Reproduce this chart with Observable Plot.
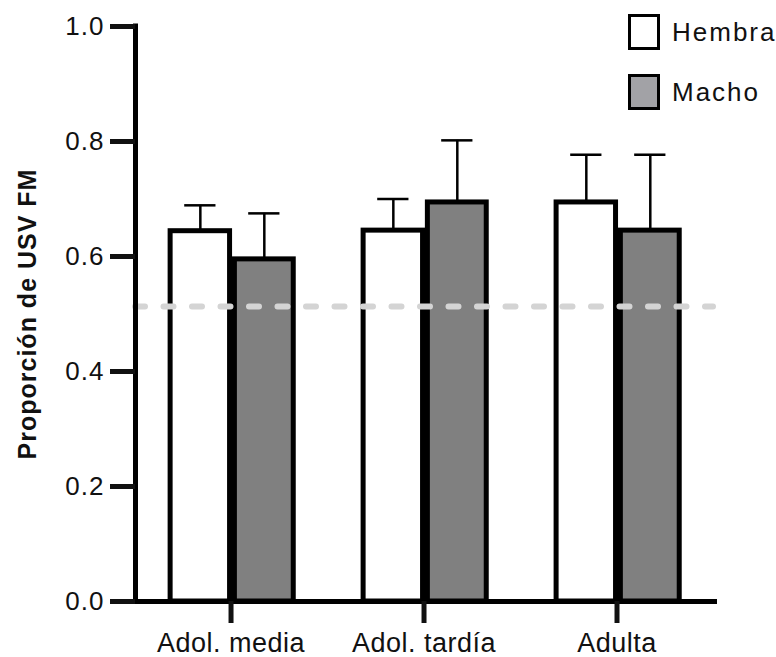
<!DOCTYPE html>
<html>
<head>
<meta charset="utf-8">
<script src="https://cdn.jsdelivr.net/npm/d3@7"></script>
<script src="https://cdn.jsdelivr.net/npm/@observablehq/plot@0.6"></script>
<style>
  html, body { margin: 0; padding: 0; background: #fff; }
  #wrap { position: relative; width: 776px; height: 657px; font-family: "Liberation Sans", Arial, sans-serif; }
  #wrap svg { position: absolute; left: 0; top: 0; }
  #wrap svg g[aria-label="y-axis tick label"] text { letter-spacing: 1px; }
  #wrap svg g[aria-label="x-axis tick label"] text { letter-spacing: 0.5px; }
  #wrap svg g[aria-label="text"] text { letter-spacing: 1px; }
  .leg { position: absolute; left: 628px; display: flex; align-items: center; }
  .leg .box { width: 26px; height: 30px; border: 3px solid #000; }
  .leg .lab { margin-left: 12px; font-size: 26px; letter-spacing: 2px; color: #111; }
</style>
</head>
<body>
<div id="wrap"></div>
<script>
const categories = ["Adol. media", "Adol. tardía", "Adulta"];
const series = ["Hembra", "Macho"];
const hembraMean = [0.644, 0.645, 0.694];
const hembraUpper = [0.689, 0.700, 0.777];
const machoMean = [0.595, 0.694, 0.645];
const machoUpper = [0.675, 0.802, 0.777];
const chanceLevel = 0.513;
const yTicks = [0, 0.2, 0.4, 0.6, 0.8, 1.0];

const barFill = { Hembra: "#ffffff", Macho: "#808080" };
const legendFill = { Hembra: "#ffffff", Macho: "#a2a2a6" };
const offsets = { Hembra: [-0.313, -0.005], Macho: [0.02, 0.325] };

const rows = [];
categories.forEach((c, i) => {
  rows.push({ cat: c, i, sex: "Hembra", mean: hembraMean[i], upper: hembraUpper[i] });
  rows.push({ cat: c, i, sex: "Macho", mean: machoMean[i], upper: machoUpper[i] });
});
const x1 = d => d.i + offsets[d.sex][0];
const x2 = d => d.i + offsets[d.sex][1];
const xc = d => (x1(d) + x2(d)) / 2;
const capHalf = 0.081;

const chart = Plot.plot({
  width: 776,
  height: 657,
  marginLeft: 135,
  marginRight: 63,
  marginTop: 26,
  marginBottom: 56,
  style: { fontFamily: "'Liberation Sans', Arial, sans-serif", color: "#111", background: "transparent" },
  x: { domain: [-0.495, 2.5], label: null },
  y: { domain: [0, 1], label: null },
  marks: [
    ...series.map(s => Plot.rectY(rows.filter(d => d.sex === s), {
      x1, x2, y: "mean", fill: barFill[s], stroke: "#000", strokeWidth: 5, strokeLinejoin: "miter"
    })),
    Plot.ruleX(rows, { x: xc, y1: "mean", y2: "upper", stroke: "#000", strokeWidth: 2.5 }),
    Plot.ruleY(rows, { y: "upper", x1: d => xc(d) - capHalf, x2: d => xc(d) + capHalf, stroke: "#000", strokeWidth: 2.5 }),
    Plot.ruleY([chanceLevel], { stroke: "#d4d4d4", strokeWidth: 6, strokeDasharray: "10,18.5", strokeLinecap: "round" }),
    Plot.ruleY([0], { stroke: "#000", strokeWidth: 5, insetLeft: -2, insetRight: -4 }),
    Plot.ruleX([-0.495], { y1: 0, y2: 1, stroke: "#000", strokeWidth: 5, strokeLinecap: "square" }),
    Plot.axisY({ ticks: yTicks, tickFormat: d => d.toFixed(1), tickSize: 25, tickPadding: 6, strokeWidth: 5, fontSize: 26, label: null }),
    Plot.axisX({ ticks: [0, 1, 2], tickFormat: i => categories[i], tickSize: 22, tickPadding: 9, strokeWidth: 5, fontSize: 27, label: null }),
    Plot.text(["Proporción de USV FM"], { frameAnchor: "left", dx: -108, rotate: -90, textAnchor: "middle", fontSize: 25, fontWeight: "bold", fill: "#111" })
  ]
});

const wrap = document.getElementById("wrap");
wrap.appendChild(chart);

const legendTops = [14, 74];
series.forEach((s, k) => {
  const item = document.createElement("div");
  item.className = "leg";
  item.style.top = legendTops[k] + "px";
  const box = document.createElement("div");
  box.className = "box";
  box.style.background = legendFill[s];
  const lab = document.createElement("span");
  lab.className = "lab";
  lab.textContent = s;
  item.appendChild(box);
  item.appendChild(lab);
  wrap.appendChild(item);
});
</script>
</body>
</html>
